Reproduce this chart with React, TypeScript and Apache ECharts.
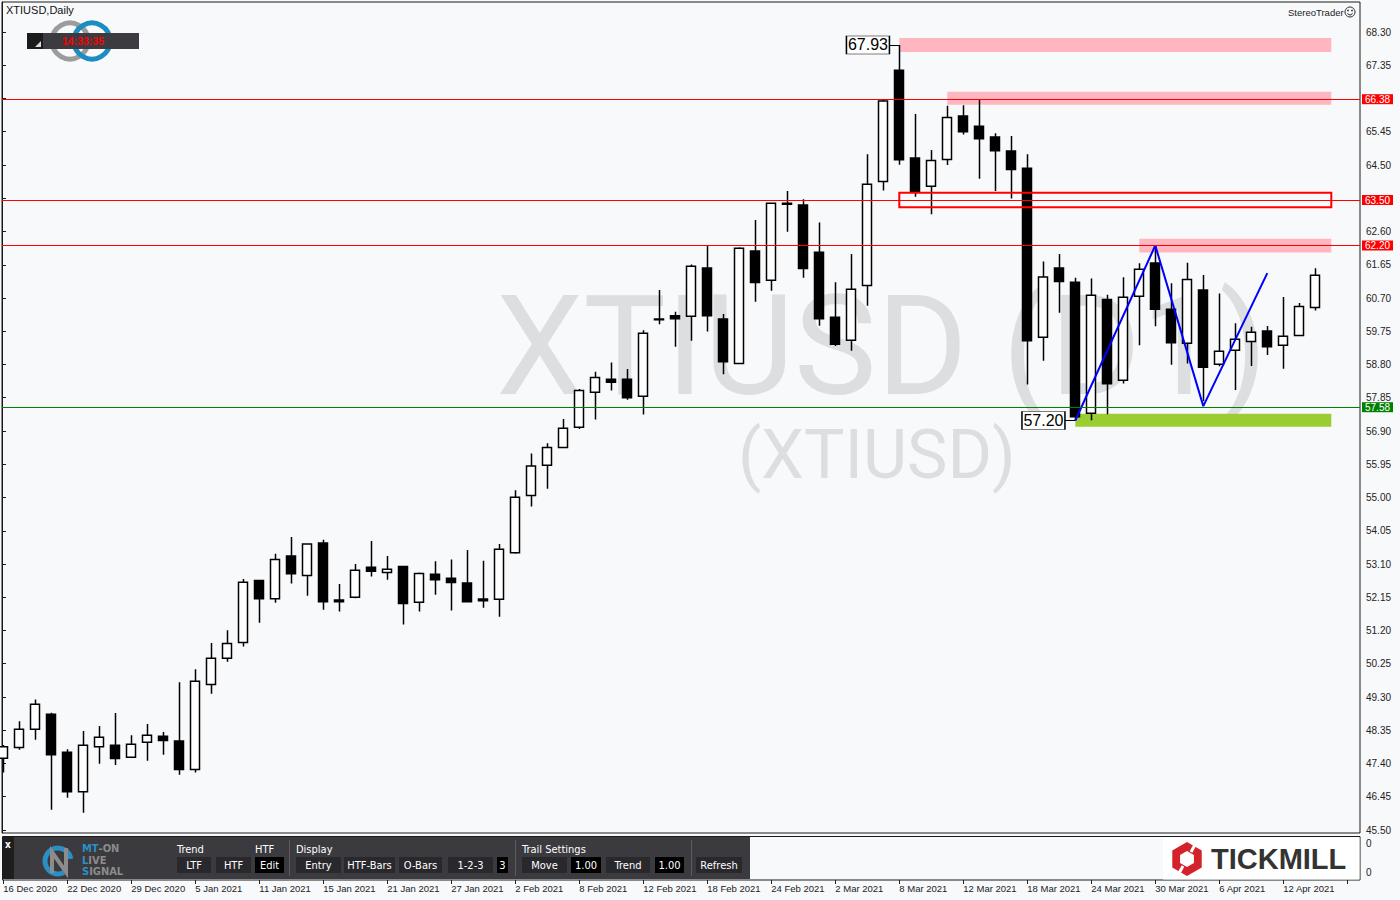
import React, { useEffect, useRef } from 'react';
import * as echarts from 'echarts';

// ---------- DATA ----------
const dates = [
  '16 Dec 2020', '17 Dec 2020', '18 Dec 2020', '21 Dec 2020', '22 Dec 2020', '23 Dec 2020', '24 Dec 2020', '28 Dec 2020',
  '29 Dec 2020', '30 Dec 2020', '31 Dec 2020', '4 Jan 2021', '5 Jan 2021', '6 Jan 2021', '7 Jan 2021', '8 Jan 2021',
  '11 Jan 2021', '12 Jan 2021', '13 Jan 2021', '14 Jan 2021', '15 Jan 2021', '18 Jan 2021', '19 Jan 2021', '20 Jan 2021',
  '21 Jan 2021', '22 Jan 2021', '25 Jan 2021', '26 Jan 2021', '27 Jan 2021', '28 Jan 2021', '29 Jan 2021', '1 Feb 2021',
  '2 Feb 2021', '3 Feb 2021', '4 Feb 2021', '5 Feb 2021', '8 Feb 2021', '9 Feb 2021', '10 Feb 2021', '11 Feb 2021',
  '12 Feb 2021', '15 Feb 2021', '16 Feb 2021', '17 Feb 2021', '18 Feb 2021', '19 Feb 2021', '22 Feb 2021', '23 Feb 2021',
  '24 Feb 2021', '25 Feb 2021', '26 Feb 2021', '1 Mar 2021', '2 Mar 2021', '3 Mar 2021', '4 Mar 2021', '5 Mar 2021',
  '8 Mar 2021', '9 Mar 2021', '10 Mar 2021', '11 Mar 2021', '12 Mar 2021', '15 Mar 2021', '16 Mar 2021', '17 Mar 2021',
  '18 Mar 2021', '19 Mar 2021', '22 Mar 2021', '23 Mar 2021', '24 Mar 2021', '25 Mar 2021', '26 Mar 2021', '29 Mar 2021',
  '30 Mar 2021', '31 Mar 2021', '1 Apr 2021', '5 Apr 2021', '6 Apr 2021', '7 Apr 2021', '8 Apr 2021', '9 Apr 2021',
  '12 Apr 2021', '13 Apr 2021', '14 Apr 2021',
];

const opens = [
  47.55, 47.86, 48.38, 48.81, 47.72, 46.59, 47.88, 47.92, 47.58, 48.01, 48.18, 48.04, 47.23, 49.66, 50.41, 50.86,
  52.63, 52.11, 53.33, 52.77, 53.70, 52.07, 52.15, 53.01, 52.86, 53.03, 52.01, 52.81, 52.69, 52.56, 52.10, 52.09,
  53.42, 55.06, 55.92, 56.43, 57.01, 58.01, 58.38, 58.38, 57.89, 60.08, 60.19, 60.18, 61.56, 60.10, 58.83, 62.04,
  61.21, 63.41, 63.36, 62.01, 60.15, 59.49, 61.06, 64.03, 67.21, 64.70, 63.89, 64.66, 65.90, 65.61, 65.30, 64.90,
  64.41, 59.58, 61.56, 61.15, 57.41, 60.66, 58.35, 60.75, 61.70, 60.38, 59.41, 60.93, 58.81, 59.21, 59.46, 59.76,
  59.35, 59.63, 60.43,
];
const highs = [
  47.93, 48.61, 49.23, 48.85, 47.81, 48.33, 48.47, 48.84, 48.21, 48.53, 48.30, 49.72, 50.09, 50.84, 51.21, 52.67,
  52.65, 53.39, 53.87, 53.69, 53.79, 52.53, 53.10, 53.76, 53.33, 53.05, 52.86, 53.18, 53.23, 53.50, 53.19, 53.67,
  55.21, 56.26, 56.55, 57.24, 58.10, 58.59, 58.86, 58.67, 59.78, 60.93, 60.31, 61.66, 62.19, 60.24, 62.15, 62.93,
  63.43, 63.76, 63.52, 62.86, 61.15, 61.96, 64.81, 66.36, 67.93, 65.96, 64.93, 66.19, 66.21, 66.37, 65.41, 65.33,
  64.81, 61.74, 61.96, 61.28, 61.26, 60.79, 61.29, 61.69, 62.17, 61.12, 61.71, 61.36, 60.83, 59.98, 59.88, 59.90,
  60.73, 60.56, 61.55,
];
const lows = [
  47.14, 47.79, 48.08, 46.08, 46.42, 45.99, 47.39, 47.36, 47.56, 47.48, 47.65, 47.08, 47.14, 49.39, 50.31, 50.74,
  51.42, 51.99, 52.54, 52.19, 51.79, 51.74, 52.12, 52.74, 52.65, 51.37, 51.74, 52.22, 51.77, 52.00, 51.85, 51.59,
  53.39, 54.74, 55.25, 56.42, 56.96, 57.23, 58.06, 57.79, 57.37, 59.95, 59.31, 59.48, 59.74, 58.52, 58.82, 60.59,
  60.91, 62.59, 61.28, 59.91, 59.33, 59.19, 60.48, 63.77, 64.51, 63.59, 63.09, 64.50, 65.37, 64.11, 63.76, 63.54,
  58.23, 58.91, 60.28, 57.20, 57.21, 57.38, 58.26, 59.35, 59.89, 58.79, 58.83, 57.75, 58.75, 58.07, 58.76, 59.07,
  58.68, 59.62, 60.34,
];
const closes = [
  47.88, 48.38, 49.09, 47.65, 46.59, 47.92, 48.15, 47.54, 47.95, 48.21, 48.06, 47.23, 49.75, 50.41, 50.83, 52.58,
  52.11, 53.23, 52.82, 53.67, 52.02, 52.02, 52.92, 52.89, 52.95, 51.97, 52.83, 52.65, 52.57, 52.02, 52.05, 53.52,
  55.01, 55.90, 56.43, 56.98, 58.06, 58.43, 58.29, 57.85, 59.69, 60.10, 60.11, 61.61, 60.19, 58.88, 62.12, 61.14,
  63.41, 63.38, 61.54, 60.11, 59.38, 60.95, 63.95, 66.33, 64.65, 63.75, 64.63, 65.86, 65.45, 65.25, 64.91, 64.37,
  59.48, 61.30, 61.17, 57.31, 60.78, 58.25, 60.72, 61.52, 60.38, 59.42, 61.23, 58.72, 59.18, 59.52, 59.72, 59.31,
  59.61, 60.46, 61.35,
];

const yTickLabels = [
  '68.30', '67.35', '66.40', '65.45', '64.50', '63.55', '62.60', '61.65', '60.70', '59.75', '58.80', '57.85', '56.90',
  '55.95', '55.00', '54.05', '53.10', '52.15', '51.20', '50.25', '49.30', '48.35', '47.40', '46.45', '45.50',
];
const coveredTickLabels = ['66.40', '63.55'];

const resistanceLevels = [66.38, 63.5, 62.2];
const supportLevels = [57.58];

// zones: [fromBar, toBar, lowPrice, highPrice]
const resistanceZones = [
  [56, 83, 67.73, 68.13],
  [59, 83, 66.22, 66.59],
  [71, 83, 62.0, 62.39],
];
const supportZones = [[67, 83, 57.02, 57.39]];
const outlineZones = [[56, 83, 63.29, 63.71]];

const zigzagBars = [67, 72, 75, 79];
const zigzagPrices = [57.2, 62.2, 57.61, 61.41];

const extremeBars = [56, 67];
const extremePrices = [67.93, 57.2];
const extremeLabelBars = [54.04, 65.01];

const PAD = 3;

// ---------- OPTION ----------
function buildOption() {
  const cats = [...dates, ...Array(PAD).fill('')];
  const N = cats.length;
  const yMin = 68.3 - 801 / 35;
  const yMax = 68.3 + 30 / 35;
  const tickVals = yTickLabels.map((s) => parseFloat(s));
  const labelVals = yTickLabels.filter((s) => !coveredTickLabels.includes(s)).map((s) => parseFloat(s));
  const candleData = opens.map((o, i) => [o, closes[i], lows[i], highs[i]]);
  const axisFont = 'Liberation Sans, Arial, sans-serif';
  const uiFont = 'DejaVu Sans Condensed, Liberation Sans Narrow, Arial, sans-serif';

  const levelItem = (v: number, color: string) => ({
    yAxis: v,
    lineStyle: { color, width: 1, type: 'solid' },
    label: {
      show: true,
      position: 'end',
      distance: 2,
      formatter: v.toFixed(2),
      backgroundColor: color,
      color: '#ffffff',
      fontSize: 10,
      fontFamily: axisFont,
      lineHeight: 10,
      padding: [0, 3, 0, 3],
    },
  });

  const zoneItem = (z: number[], color: string) => [
    { coord: [z[0], z[3]], itemStyle: { color } },
    { coord: [z[1], z[2]] },
  ];

  const txt = (x: number, y: number, text: string, extra: any = {}, z = 12) => ({
    type: 'text',
    x,
    y,
    z,
    silent: true,
    style: {
      text,
      fill: '#ffffff',
      fontSize: 11,
      fontFamily: uiFont,
      verticalAlign: 'middle',
      align: 'left',
      ...extra,
    },
  });

  const buttons = [
    [177, 211, 'LTF', false],
    [216, 251, 'HTF', false],
    [255, 284, 'Edit', true],
    [296, 341, 'Entry', false],
    [344, 395, 'HTF-Bars', false],
    [399, 442, 'O-Bars', false],
    [448, 493, '1-2-3', false],
    [497, 508, '3', true],
    [522, 567, 'Move', false],
    [571, 601, '1.00', true],
    [606, 650, 'Trend', false],
    [655, 684, '1.00', true],
    [696, 742, 'Refresh', false],
  ];
  const buttonEls: any[] = [];
  buttons.forEach(([x0, x1, label, dark]: any) => {
    buttonEls.push({
      type: 'rect',
      z: 11,
      silent: true,
      shape: { x: x0, y: 857, width: x1 - x0, height: 16 },
      style: { fill: dark ? '#000000' : '#29282d' },
    });
    buttonEls.push(txt((x0 + x1) / 2, 865, label, { align: 'center' }));
  });

  const hexPts = (cx: number, cy: number, r: number) =>
    [0, 1, 2, 3, 4, 5].map((i) => {
      const a = (Math.PI / 180) * (-90 + 60 * i);
      return [cx + r * Math.cos(a), cy + r * Math.sin(a)];
    });

  const logoRich = {
    b: { fill: '#2b8fc5', fontWeight: 'bold', fontSize: 11, lineHeight: 10, fontFamily: uiFont },
    g: { fill: '#8c8c8c', fontWeight: 'bold', fontSize: 11, lineHeight: 10, fontFamily: uiFont },
  };

  const graphics: any[] = [
    // watermark
    {
      type: 'text', x: 496, y: 346, z: 0, silent: true,
      style: { text: 'XTIUSD (D1)', fill: '#dcdedf', fontSize: 139, fontFamily: 'Roboto, Liberation Sans, sans-serif', verticalAlign: 'middle' },
    },
    {
      type: 'text', x: 738, y: 455, z: 0, silent: true,
      style: { text: '(XTIUSD)', fill: '#dcdedf', fontSize: 68, fontFamily: 'Roboto, Liberation Sans, sans-serif', verticalAlign: 'middle' },
    },
    // title
    txt(6, 10, 'XTIUSD,Daily', { fill: '#111111', fontFamily: axisFont, fontSize: 11 }),
    // logo rings + time bar
    { type: 'circle', z: 9, silent: true, shape: { cx: 70, cy: 41, r: 18 }, style: { fill: 'none', stroke: '#9c9c9c', lineWidth: 5 } },
    { type: 'circle', z: 9, silent: true, shape: { cx: 92, cy: 41, r: 18 }, style: { fill: 'none', stroke: '#1d8dc1', lineWidth: 5 } },
    { type: 'rect', z: 10, silent: true, shape: { x: 27, y: 33, width: 112, height: 16 }, style: { fill: '#3c3b40' } },
    { type: 'rect', z: 10, silent: true, shape: { x: 27, y: 33, width: 16, height: 16 }, style: { fill: '#1b1b1b' } },
    { type: 'polygon', z: 11, silent: true, shape: { points: [[35, 47], [41, 47], [41, 41]] }, style: { fill: '#d8d8d8' } },
    txt(62, 41, '14:33:35', { fill: '#ff0000', fontWeight: 'bold', fontSize: 10.5, fontFamily: axisFont }),
    // StereoTrader
    txt(1288, 12, 'StereoTrader', { fill: '#222222', fontSize: 9.5, fontFamily: axisFont }),
    { type: 'circle', z: 12, silent: true, shape: { cx: 1350, cy: 12, r: 5 }, style: { fill: 'none', stroke: '#222222', lineWidth: 1 } },
    { type: 'circle', z: 12, silent: true, shape: { cx: 1348, cy: 10.5, r: 0.8 }, style: { fill: '#222222' } },
    { type: 'circle', z: 12, silent: true, shape: { cx: 1352, cy: 10.5, r: 0.8 }, style: { fill: '#222222' } },
    { type: 'arc', z: 12, silent: true, shape: { cx: 1350, cy: 12.5, r: 2.5, startAngle: 0.3, endAngle: Math.PI - 0.3 }, style: { stroke: '#222222', lineWidth: 1, fill: 'none' } },
    // sub window frame
    { type: 'rect', z: 8, silent: true, shape: { x: 2.5, y: 836.5, width: 1357.5, height: 43.5 }, style: { fill: 'none', stroke: '#1a1a1a', lineWidth: 1 } },
    txt(1366, 843, '0', { fill: '#222222', fontSize: 10, fontFamily: axisFont }),
    txt(1366, 872, '0', { fill: '#222222', fontSize: 10, fontFamily: axisFont }),
    // toolbar panel
    { type: 'rect', z: 10, silent: true, shape: { x: 3, y: 837, width: 747, height: 42 }, style: { fill: '#3b3a3f' } },
    { type: 'rect', z: 11, silent: true, shape: { x: 3, y: 837, width: 11, height: 42 }, style: { fill: '#1e1e1e' } },
    txt(5, 844, 'x', { fontWeight: 'bold', fontSize: 10 }),
    { type: 'arc', z: 11, silent: true, shape: { cx: 58, cy: 861, r: 13, startAngle: 0.35 * Math.PI, endAngle: 1.95 * Math.PI }, style: { stroke: '#2b8fc5', lineWidth: 5, fill: 'none' } },
    { type: 'polyline', z: 12, silent: true, shape: { points: [[52, 873], [52, 852], [66, 872], [66, 848]] }, style: { stroke: '#8c8c8c', lineWidth: 4, fill: 'none' } },
    { type: 'text', x: 82, y: 848.5, z: 12, silent: true, style: { text: '{b|MT}{g|-ON}', verticalAlign: 'middle', rich: logoRich } },
    { type: 'text', x: 82, y: 860, z: 12, silent: true, style: { text: '{b|L}{g|IVE}', verticalAlign: 'middle', rich: logoRich } },
    { type: 'text', x: 82, y: 871.5, z: 12, silent: true, style: { text: '{b|S}{g|IGNAL}', verticalAlign: 'middle', rich: logoRich } },
    txt(177, 849, 'Trend'),
    txt(255, 849, 'HTF'),
    txt(296, 849, 'Display'),
    txt(522, 849, 'Trail Settings'),
    { type: 'line', z: 11, silent: true, shape: { x1: 289.5, y1: 840, x2: 289.5, y2: 876 }, style: { stroke: '#5c5c60', lineWidth: 1 } },
    { type: 'line', z: 11, silent: true, shape: { x1: 515.5, y1: 840, x2: 515.5, y2: 876 }, style: { stroke: '#5c5c60', lineWidth: 1 } },
    { type: 'line', z: 11, silent: true, shape: { x1: 691.5, y1: 840, x2: 691.5, y2: 876 }, style: { stroke: '#5c5c60', lineWidth: 1 } },
    ...buttonEls,
    // Tickmill logo
    { type: 'rect', z: 10, silent: true, shape: { x: 1163, y: 837.5, width: 196.5, height: 42 }, style: { fill: '#ffffff' } },
    { type: 'polygon', z: 11, silent: true, shape: { points: hexPts(1187, 859, 17) }, style: { fill: '#d3222a' } },
    { type: 'polygon', z: 12, silent: true, shape: { points: hexPts(1187, 859, 8) }, style: { fill: '#ffffff' } },
    { type: 'line', z: 12, silent: true, shape: { x1: 1191, y1: 852, x2: 1197, y2: 841 }, style: { stroke: '#ffffff', lineWidth: 3 } },
    { type: 'line', z: 12, silent: true, shape: { x1: 1183, y1: 866, x2: 1177, y2: 877 }, style: { stroke: '#ffffff', lineWidth: 3 } },
    txt(1211, 859, 'TICKMILL', { fill: '#333333', fontWeight: 'bold', fontSize: 29, fontFamily: 'Liberation Sans, Arial, sans-serif' }),
  ];

  return {
    animation: false,
    backgroundColor: '#f8f9fb',
    grid: [
      { left: 2, top: 2, width: 1358, height: 831, show: true, borderColor: '#1a1a1a', borderWidth: 1, backgroundColor: 'transparent' },
      { left: 3.3, top: 2, width: 1360, height: 831 },
      { left: 3.3, top: 836, width: 1360, height: 44 },
    ],
    xAxis: [
      { gridIndex: 0, type: 'value', min: 0, max: 1, show: false },
      { gridIndex: 1, type: 'category', data: cats, boundaryGap: false, show: false },
      { gridIndex: 1, type: 'value', min: 0, max: N - 1, show: false },
      {
        gridIndex: 2,
        type: 'category',
        data: cats,
        boundaryGap: false,
        axisLine: { show: false },
        axisTick: { show: true, interval: 3, length: 4, lineStyle: { color: '#222222' } },
        axisLabel: { interval: 3, align: 'left', fontSize: 9.5, color: '#222222', margin: 3, fontFamily: axisFont },
        splitLine: { show: false },
      },
    ],
    yAxis: [
      {
        gridIndex: 0,
        type: 'value',
        position: 'right',
        min: yMin,
        max: yMax,
        axisLine: { show: true, lineStyle: { color: '#1a1a1a', width: 1 } },
        axisTick: { show: true, length: 4, customValues: tickVals, lineStyle: { color: '#1a1a1a' } },
        axisLabel: {
          show: true,
          customValues: labelVals,
          formatter: (v: number) => v.toFixed(2),
          fontSize: 10,
          margin: 6,
          color: '#222222',
          fontFamily: axisFont,
        },
        splitLine: { show: false },
      },
      { gridIndex: 1, type: 'value', min: yMin, max: yMax, show: false },
      { gridIndex: 2, type: 'value', show: false },
    ],
    series: [
      {
        type: 'line',
        name: 'zones',
        xAxisIndex: 2,
        yAxisIndex: 1,
        data: [],
        silent: true,
        z: 1,
        markArea: {
          silent: true,
          z: 1,
          data: [
            ...resistanceZones.map((zz) => zoneItem(zz, '#ffb6c1')),
            ...supportZones.map((zz) => zoneItem(zz, '#9acd32')),
          ],
        },
      },
      {
        type: 'candlestick',
        name: 'XTIUSD',
        xAxisIndex: 1,
        yAxisIndex: 1,
        data: candleData,
        barWidth: 9.5,
        z: 2,
        silent: true,
        itemStyle: {
          color: '#ffffff',
          color0: '#000000',
          borderColor: '#000000',
          borderColor0: '#000000',
          borderColorDoji: '#000000',
          borderWidth: 1.5,
        },
      },
      {
        type: 'line',
        name: 'levels',
        xAxisIndex: 0,
        yAxisIndex: 0,
        data: [],
        silent: true,
        markLine: {
          silent: true,
          symbol: 'none',
          z: 5,
          data: [
            ...resistanceLevels.map((v) => levelItem(v, '#ff0000')),
            ...supportLevels.map((v) => levelItem(v, '#008000')),
          ],
        },
      },
      {
        type: 'line',
        name: 'outline',
        xAxisIndex: 2,
        yAxisIndex: 1,
        data: [],
        silent: true,
        z: 6,
        markArea: {
          silent: true,
          z: 6,
          data: outlineZones.map((zz) => [
            { coord: [zz[0], zz[3]], itemStyle: { color: 'rgba(0,0,0,0)', borderColor: '#ff0000', borderWidth: 2 } },
            { coord: [zz[1], zz[2]] },
          ]),
        },
      },
      {
        type: 'line',
        name: 'pattern',
        xAxisIndex: 2,
        yAxisIndex: 1,
        data: zigzagBars.map((b, i) => [b, zigzagPrices[i]]),
        symbol: 'none',
        showSymbol: false,
        silent: true,
        z: 4,
        lineStyle: { color: '#0000ff', width: 2 },
        markLine: {
          silent: true,
          symbol: 'none',
          z: 5,
          label: { show: false },
          lineStyle: { color: '#000000', width: 1, type: 'solid' },
          data: extremeBars.map((b, i) => [
            { coord: [extremeLabelBars[i], extremePrices[i]] },
            { coord: [b, extremePrices[i]] },
          ]),
        },
        markPoint: {
          silent: true,
          z: 7,
          symbol: 'rect',
          symbolSize: [43, 18],
          itemStyle: { color: '#ffffff', borderColor: '#000000', borderWidth: 1 },
          label: { show: true, position: 'inside', color: '#000000', fontSize: 16, fontFamily: axisFont, formatter: '{c}' },
          data: extremeBars.map((b, i) => ({
            coord: [extremeLabelBars[i], extremePrices[i]],
            value: extremePrices[i].toFixed(2),
          })),
        },
      },
    ],
    graphic: { elements: graphics },
  };
}

export default function App() {
  const ref = useRef<HTMLDivElement>(null);
  useEffect(() => {
    if (!ref.current) return;
    const chart = echarts.init(ref.current, null, { renderer: 'svg' });
    chart.setOption(buildOption() as any);
    return () => {
      chart.dispose();
    };
  }, []);
  return <div ref={ref} style={{ position: 'fixed', left: 0, top: 0, width: 1400, height: 900 }} />;
}
